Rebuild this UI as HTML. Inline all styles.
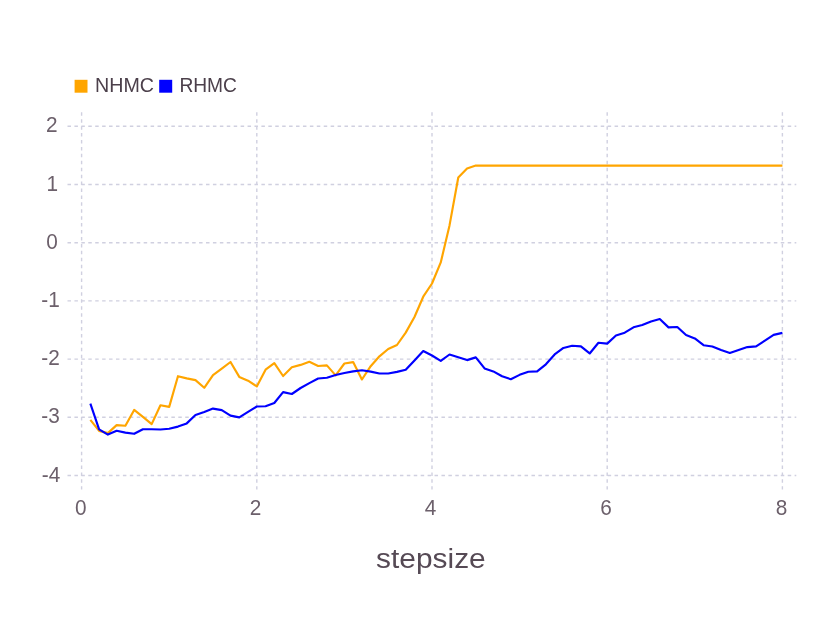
<!DOCTYPE html>
<html><head><meta charset="utf-8"><title>plot</title>
<style>
html,body{margin:0;padding:0;background:#fff;}
body{width:831px;height:623px;overflow:hidden;font-family:"Liberation Sans",sans-serif;}
svg{display:block;position:absolute;left:0;top:0;will-change:transform;}
text{font-family:"Liberation Sans",sans-serif;}
.grid line{stroke:#d0d0e0;stroke-width:1.4;stroke-dasharray:3.5,3.425;fill:none;}
.tick text{font-size:20.8px;fill:#6c606b;}
.key text{font-size:20.5px;fill:#4c404b;}
.title{font-size:27.5px;fill:#564a55;}
.ln{fill:none;stroke-width:2.15;stroke-linejoin:round;stroke-linecap:butt;}
</style></head>
<body>
<svg width="831" height="623" viewBox="0 0 831 623">
<rect x="0" y="0" width="831" height="623" fill="#ffffff"/>
<g class="grid"><line x1="67.5" x2="796.3" y1="126.30" y2="126.30"/><line x1="67.5" x2="796.3" y1="184.50" y2="184.50"/><line x1="67.5" x2="796.3" y1="242.70" y2="242.70"/><line x1="67.5" x2="796.3" y1="300.90" y2="300.90"/><line x1="67.5" x2="796.3" y1="359.10" y2="359.10"/><line x1="67.5" x2="796.3" y1="417.30" y2="417.30"/><line x1="67.5" x2="796.3" y1="475.50" y2="475.50"/><line x1="81.60" x2="81.60" y1="112.3" y2="489.6"/><line x1="256.80" x2="256.80" y1="112.3" y2="489.6"/><line x1="432.00" x2="432.00" y1="112.3" y2="489.6"/><line x1="607.20" x2="607.20" y1="112.3" y2="489.6"/><line x1="782.40" x2="782.40" y1="112.3" y2="489.6"/></g>
<g class="tick"><text transform="translate(51.8,132.40) scale(1,1.05)" text-anchor="middle">2</text><text transform="translate(52.3,190.60) scale(1,1.05)" text-anchor="middle">1</text><text transform="translate(52.15,248.80) scale(1,1.05)" text-anchor="middle">0</text><text transform="translate(50.6,307.00) scale(1,1.05)" text-anchor="middle">-1</text><text transform="translate(50.6,365.20) scale(1,1.05)" text-anchor="middle">-2</text><text transform="translate(50.6,423.40) scale(1,1.05)" text-anchor="middle">-3</text><text transform="translate(50.95,481.60) scale(1,1.05)" text-anchor="middle">-4</text><text transform="translate(80.80,514.6) scale(1,1.05)" text-anchor="middle">0</text><text transform="translate(255.45,514.6) scale(1,1.05)" text-anchor="middle">2</text><text transform="translate(430.60,514.6) scale(1,1.05)" text-anchor="middle">4</text><text transform="translate(606.00,514.6) scale(1,1.05)" text-anchor="middle">6</text><text transform="translate(781.60,514.6) scale(1,1.05)" text-anchor="middle">8</text></g>
<g class="key">
<rect x="74.6" y="79.8" width="12.9" height="12.9" fill="#ffa500"/>
<text x="95" y="92.1" textLength="59" lengthAdjust="spacingAndGlyphs">NHMC</text>
<rect x="159.2" y="79.8" width="13" height="12.9" fill="#0000ff"/>
<text x="179.4" y="92.1" textLength="57.6" lengthAdjust="spacingAndGlyphs">RHMC</text>
</g>
<text class="title" x="376.1" y="567.7" textLength="109.6" lengthAdjust="spacingAndGlyphs">stepsize</text>
<polyline class="ln" stroke="#ffa500" points="90.36,419.80 99.12,430.90 107.88,433.10 116.64,425.10 125.40,425.70 134.16,409.90 142.92,416.90 151.68,424.10 160.44,405.30 169.20,406.90 177.96,376.20 186.72,378.40 195.48,380.10 204.24,387.80 213.00,375.10 221.76,368.60 230.52,362.00 239.28,376.90 248.04,380.65 256.80,386.40 265.56,369.70 274.32,363.10 283.08,376.00 291.84,367.30 300.60,364.90 309.36,361.80 318.12,366.00 326.88,365.40 335.64,375.40 344.40,363.50 353.16,362.10 361.92,379.50 370.68,366.20 379.44,356.30 388.20,349.00 396.96,345.00 405.72,332.65 414.48,317.00 423.24,296.70 432.00,283.50 440.76,262.45 449.52,225.40 458.28,177.50 467.04,168.50 475.80,165.60 484.56,165.60 493.32,165.60 502.08,165.60 510.84,165.60 519.60,165.60 528.36,165.60 537.12,165.60 545.88,165.60 554.64,165.60 563.40,165.60 572.16,165.60 580.92,165.60 589.68,165.60 598.44,165.60 607.20,165.60 615.96,165.60 624.72,165.60 633.48,165.60 642.24,165.60 651.00,165.60 659.76,165.60 668.52,165.60 677.28,165.60 686.04,165.60 694.80,165.60 703.56,165.60 712.32,165.60 721.08,165.60 729.84,165.60 738.60,165.60 747.36,165.60 756.12,165.60 764.88,165.60 773.64,165.60 782.40,165.60"/>
<polyline class="ln" stroke="#0000ff" points="90.36,403.60 99.12,429.30 107.88,434.60 116.64,430.80 125.40,432.60 134.16,433.80 142.92,429.20 151.68,429.20 160.44,429.50 169.20,428.80 177.96,426.60 186.72,423.40 195.48,415.00 204.24,412.00 213.00,408.60 221.76,410.10 230.52,415.60 239.28,417.40 248.04,411.80 256.80,406.50 265.56,406.30 274.32,403.00 283.08,392.10 291.84,394.00 300.60,388.00 309.36,383.10 318.12,378.50 326.88,377.70 335.64,375.00 344.40,373.00 353.16,371.40 361.92,370.30 370.68,371.60 379.44,373.50 388.20,373.50 396.96,371.90 405.72,369.80 414.48,360.40 423.24,351.00 432.00,355.50 440.76,360.80 449.52,354.50 458.28,357.20 467.04,360.10 475.80,357.40 484.56,368.40 493.32,371.40 502.08,376.30 510.84,379.20 519.60,374.85 528.36,371.70 537.12,371.40 545.88,364.30 554.64,354.45 563.40,347.95 572.16,345.80 580.92,346.40 589.68,353.45 598.44,342.80 607.20,343.60 615.96,335.45 624.72,332.70 633.48,327.30 642.24,325.05 651.00,321.50 659.76,319.00 668.52,327.40 677.28,327.00 686.04,335.00 694.80,338.40 703.56,345.20 712.32,346.50 721.08,350.05 729.84,353.00 738.60,350.00 747.36,347.10 756.12,346.40 764.88,340.60 773.64,334.90 782.40,332.90"/>
</svg>
</body></html>
